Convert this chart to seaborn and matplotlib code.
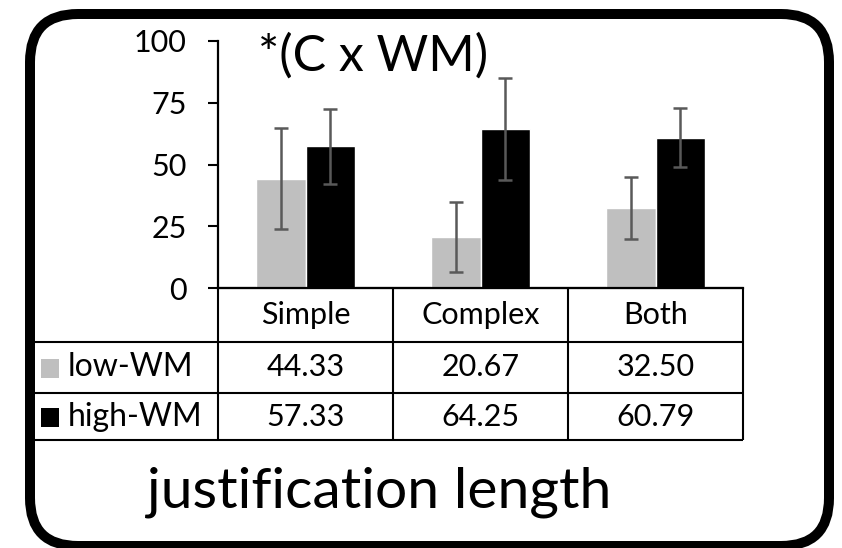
import pandas as pd
import matplotlib.pyplot as plt
import seaborn as sns
from matplotlib.patches import FancyBboxPatch, Rectangle

# Chart values
categories = ["Simple", "Complex", "Both"]
groups = ["low-WM", "high-WM"]
low_wm = [44.33, 20.67, 32.50]
high_wm = [57.33, 64.25, 60.79]
low_err = [20.5, 14.1, 12.6]
high_err = [15.3, 20.6, 12.0]
y_ticks = [0, 25, 50, 75, 100]
note = "*(C x WM)"
title = "justification length"

colors = {"low-WM": "#bfbfbf", "high-WM": "#000000"}

df = pd.DataFrame({
    "condition": categories * 2,
    "group": [groups[0]] * 3 + [groups[1]] * 3,
    "score": low_wm + high_wm,
    "err": low_err + high_err,
})

sns.set_style("white")
plt.rcParams["font.family"] = ["Lato", "DejaVu Sans"]
plt.rcParams["text.color"] = "black"
plt.rcParams["ytick.color"] = "black"

W, H = 842, 548
fig = plt.figure(figsize=(W / 100, H / 100), dpi=100)

# background axes in pixel coordinates (y down) for border, table and texts
bg = fig.add_axes([0, 0, 1, 1])
bg.set_xlim(0, W)
bg.set_ylim(H, 0)
bg.axis("off")

bg.add_patch(FancyBboxPatch((30, 14), 799, 532,
                            boxstyle="round,pad=0,rounding_size=48",
                            fill=False, lw=7.2, ec="black"))

# bar axes
x0, x1 = 218, 743
y_top, y_zero = 41, 288
ax = fig.add_axes([x0 / W, 1 - y_zero / H, (x1 - x0) / W, (y_zero - y_top) / H])
ax.set_facecolor("none")

sns.barplot(data=df, x="condition", y="score", hue="group", order=categories,
            hue_order=groups, palette=colors, width=0.57, errorbar=None,
            saturation=1, legend=False, ax=ax)

# error bars at the bar centres seaborn placed
bars = ax.patches
for i, p in enumerate(bars):
    xc = p.get_x() + p.get_width() / 2
    ax.errorbar(xc, p.get_height(), yerr=df["err"].iloc[i], fmt="none",
                ecolor="#595959", elinewidth=1.8, capsize=5, capthick=1.8)

ax.set_xlim(-0.5, 2.5)
ax.set_ylim(0, 100)
ax.set_yticks(y_ticks)
ax.set_xticks([])
ax.set_xlabel("")
ax.set_ylabel("")
ax.tick_params(axis="y", direction="out", length=7.5, width=1.5, pad=15,
               labelsize=22, left=True, colors="black")
for s in ["top", "right"]:
    ax.spines[s].set_visible(False)
for s in ["left", "bottom"]:
    ax.spines[s].set_linewidth(1.6)
    ax.spines[s].set_color("black")

bg.text(258, 56, note, fontsize=36, va="center", ha="left")

# data table under the bars
col_edges = [218, 393, 568, 743]
row_edges = [288, 342, 393, 440]
lab_left = 33
lw = 1.5
bg.hlines(row_edges[0], col_edges[0], col_edges[-1], color="black", lw=lw)
for y in row_edges[1:]:
    bg.hlines(y, lab_left, col_edges[-1], color="black", lw=lw)
for x in col_edges:
    bg.vlines(x, row_edges[0], row_edges[-1], color="black", lw=lw)
bg.vlines(lab_left, row_edges[1], row_edges[-1], color="black", lw=lw)

centers = [(col_edges[i] + col_edges[i + 1]) / 2 for i in range(3)]
row_mid = [(row_edges[i] + row_edges[i + 1]) / 2 for i in range(3)]
for c, name in zip(centers, categories):
    bg.text(c, row_mid[0], name, fontsize=22, ha="center", va="center")
for r, (g, vals) in enumerate(zip(groups, [low_wm, high_wm])):
    y = row_mid[r + 1]
    bg.add_patch(Rectangle((41, y - 9), 18, 19, color=colors[g], lw=0))
    bg.text(68, y, g, fontsize=23, ha="left", va="center")
    for c, v in zip(centers, vals):
        bg.text(c, y, f"{v:.2f}", fontsize=22, ha="center", va="center")

bg.text(379, 492, title, fontsize=41, ha="center", va="center")

fig.savefig("out.png", dpi=100)
